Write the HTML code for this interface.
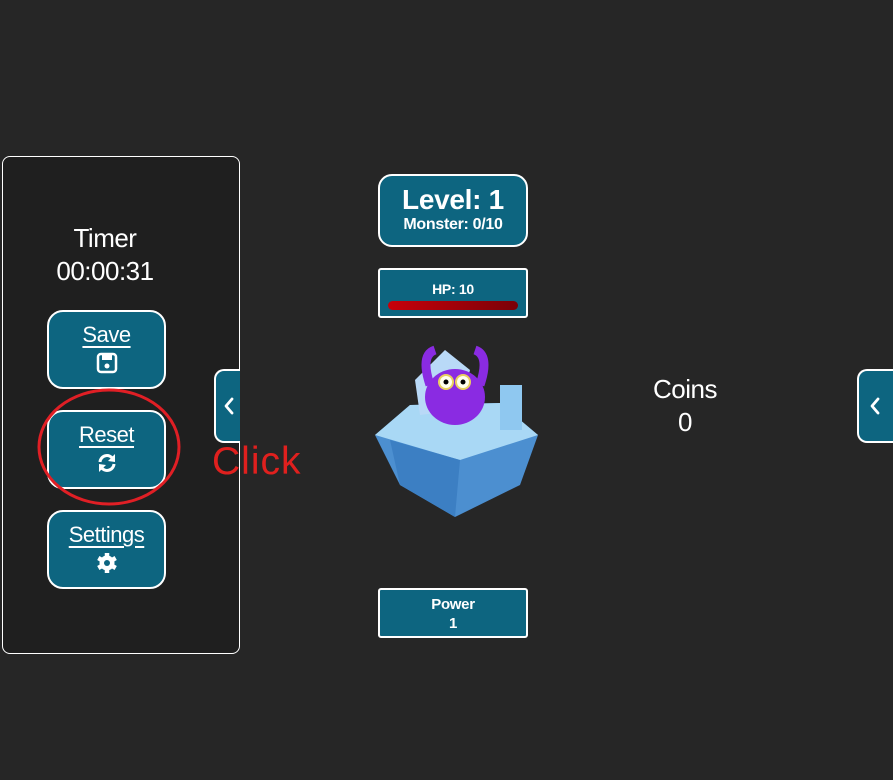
<!DOCTYPE html>
<html><head><style>
body{margin:0;width:893px;height:780px;background:#262626;position:relative;overflow:hidden;font-family:"Liberation Sans",sans-serif;color:#fff}
.a{position:absolute}
.panel{left:2px;top:156px;width:236px;height:496px;border:1.5px solid #fff;border-radius:8px;background:#1f1f1f}
.btn{left:47px;width:115px;height:75px;border:2px solid #fff;border-radius:16px;background:#0d6580;text-align:center}
.btn .t{font-size:22px;text-decoration:underline;text-underline-offset:4px;margin-top:10px;line-height:26px;letter-spacing:-0.5px}
.tab{width:24px;height:70px;border:2px solid #fff;border-right:none;border-radius:10px 0 0 10px;background:#0d6580}
.tab svg{position:absolute;left:7px;top:26px}
.box{left:378px;width:146px;border:2px solid #fff;background:#0d6580;text-align:center;font-weight:bold;letter-spacing:-0.3px}
</style></head><body>
<div class="a panel"></div>
<div class="a" style="left:2px;width:206px;top:222px;text-align:center;font-size:26px;line-height:33px;letter-spacing:-0.5px">Timer<br>00:00:31</div>
<div class="a btn" style="top:310px"><div class="t">Save</div>
<svg width="22" height="22" viewBox="0 0 22 22" style="margin-top:4px"><rect x="2" y="2" width="18" height="18" rx="3" fill="none" stroke="#fff" stroke-width="2.5"/><rect x="6" y="3" width="10" height="5" fill="#fff"/><circle cx="11" cy="14" r="2.5" fill="#fff"/></svg></div>
<div class="a btn" style="top:410px"><div class="t">Reset</div>
<svg width="22" height="22" viewBox="0 0 22 22" style="margin-top:4px"><path d="M4 10 A7 7 0 0 1 17 7" fill="none" stroke="#fff" stroke-width="3"/><path d="M18 12 A7 7 0 0 1 5 15" fill="none" stroke="#fff" stroke-width="3"/><polygon points="19,2 19,10 12,9" fill="#fff"/><polygon points="3,20 3,12 10,13" fill="#fff"/></svg></div>
<div class="a btn" style="top:510px"><div class="t">Settings</div>
<svg width="24" height="24" viewBox="0 0 24 24" style="margin-top:3px"><circle cx="12" cy="12" r="7.5" fill="#fff"/><g stroke="#fff" stroke-width="4.5"><line x1="12" y1="2" x2="12" y2="22"/><line x1="3.3" y1="7" x2="20.7" y2="17"/><line x1="3.3" y1="17" x2="20.7" y2="7"/></g><circle cx="12" cy="12" r="3" fill="#0d6580"/></svg></div>
<div class="a tab" style="left:214px;top:369px"><svg width="12" height="18"><polyline points="9,2 3,9 9,16" fill="none" stroke="#fff" stroke-width="2.8" stroke-linecap="round" stroke-linejoin="round"/></svg></div>
<div class="a tab" style="left:857px;top:369px;width:36px"><svg width="12" height="18" style="left:10px"><polyline points="9,2 3,9 9,16" fill="none" stroke="#fff" stroke-width="2.8" stroke-linecap="round" stroke-linejoin="round"/></svg></div>
<svg class="a" style="left:0;top:0" width="893" height="780"><ellipse cx="109" cy="447" rx="70" ry="57" fill="none" stroke="#e01f25" stroke-width="3"/></svg>
<div class="a" style="left:212px;top:440px;font-size:39px;color:#e0201e;line-height:44px;letter-spacing:1px">Click</div>
<div class="a box" style="top:174px;height:69px;border-radius:14px"><div style="font-size:28px;margin-top:9px;line-height:30px">Level: 1</div><div style="font-size:16px;line-height:20px">Monster: 0/10</div></div>
<div class="a box" style="top:268px;height:46px;border-radius:3px"><div style="font-size:14px;margin-top:11px">HP: 10</div><div style="margin:4px auto 0;width:130px;height:9px;border-radius:5px;background:linear-gradient(90deg,#c8000a,#7a0008)"></div></div>
<div class="a box" style="top:588px;border-radius:3px;font-size:15px;line-height:19px;padding-top:5px;height:41px">Power<br>1</div>
<svg class="a" style="left:370px;top:325px" width="170" height="195" viewBox="0 0 170 195">
<polygon points="5,110 40,80 130,78 168,110 150,160 85,192 30,160" fill="#4c8fd0"/>
<polygon points="5,110 40,80 130,78 168,110 90,135" fill="#a9d8f5"/>
<polygon points="20,115 90,135 85,192 30,160" fill="#3c7fc3"/>
<rect x="130" y="60" width="22" height="45" fill="#8fc8f0"/>
<polygon points="45,55 75,25 100,45 90,85 50,90" fill="#b9d9f7"/>
<ellipse cx="85" cy="72" rx="30" ry="28" fill="#8a2be2"/>
<path d="M60 60 Q50 30 65 25 M110 60 Q120 30 105 25" stroke="#8a2be2" stroke-width="9" fill="none"/>
<circle cx="76" cy="57" r="7" fill="#ffe" stroke="#e8d060" stroke-width="2"/><circle cx="93" cy="57" r="7" fill="#ffe" stroke="#e8d060" stroke-width="2"/>
<circle cx="76" cy="57" r="2.5" fill="#000"/><circle cx="93" cy="57" r="2.5" fill="#000"/>
</svg>
<div class="a" style="left:625px;width:120px;top:373px;text-align:center;font-size:26px;line-height:33px;letter-spacing:-0.5px">Coins<br>0</div>
</body></html>
